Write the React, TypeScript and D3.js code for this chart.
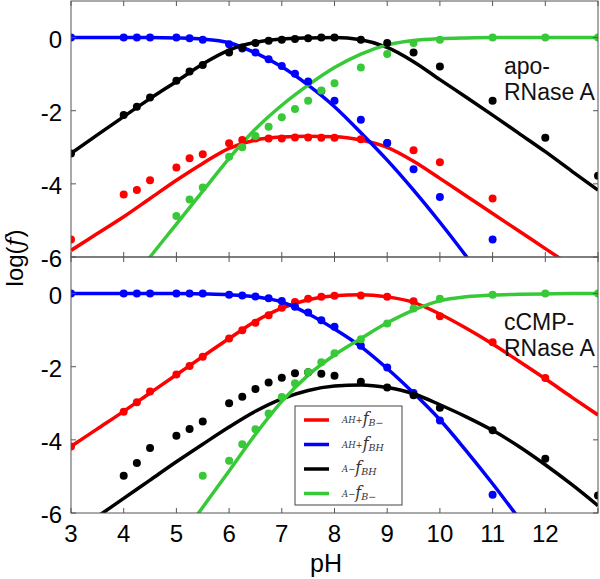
import React, { useRef, useEffect } from "react";
import * as d3 from "d3";

// pH values where points were measured
const pointPH = [3, 4, 4.25, 4.5, 5, 5.25, 5.5, 6, 6.25, 6.5, 6.75, 7, 7.25, 7.5, 7.75, 8, 8.5, 9, 9.5, 10, 11, 12, 13];

// apo-RNase A, log(f) measured
const apoRed = [-5.52, -4.29, -4.17, -3.9, -3.55, -3.3, -3.19, -2.89, -2.8, -2.76, -2.76, -2.76, -2.73, -2.73, -2.74, -2.74, -2.78, -2.88, -3.08, -3.41, -4.4, null, null];
const apoBlue = [0, 0, 0, 0, 0, -0.02, -0.06, -0.18, -0.3, -0.41, -0.59, -0.78, -0.99, -1.2, -1.46, -1.73, -2.25, -2.88, -3.6, -4.36, -5.52, null, null];
const apoBlack = [-3.17, -2.12, -1.89, -1.64, -1.18, -0.93, -0.75, -0.41, -0.27, -0.15, -0.09, -0.06, -0.04, -0.02, 0, 0, -0.06, -0.15, -0.41, -0.79, -1.73, -2.74, -3.78];
const apoGreen = [null, null, null, null, -4.88, -4.43, -4.1, -3.26, -3.0, -2.69, -2.44, -2.18, -1.95, -1.73, -1.45, -1.25, -0.82, -0.45, -0.15, -0.06, 0, 0, 0];

// cCMP-RNase A, log(f) measured
const ccmpRed = [-4.18, -3.23, -2.97, -2.68, -2.21, -1.98, -1.73, -1.23, -1.0, -0.8, -0.59, -0.39, -0.23, -0.14, -0.09, -0.06, -0.05, -0.09, -0.21, -0.62, -1.33, -2.31, null];
const ccmpBlue = [0, 0, 0, 0, 0, 0, 0, -0.03, -0.05, -0.08, -0.13, -0.2, -0.36, -0.52, -0.73, -0.91, -1.43, -2.02, -2.72, -3.47, -5.5, null, null];
const ccmpBlack = [null, -4.98, -4.63, -4.22, -3.89, -3.7, -3.5, -3.0, -2.82, -2.61, -2.43, -2.3, -2.18, -2.15, -2.19, -2.25, -2.41, -2.57, -2.78, -3.12, -3.74, -4.52, -5.52];
const ccmpGreen = [null, null, null, null, null, null, -4.98, -4.57, -4.12, -3.71, -3.28, -2.83, -2.45, -2.15, -1.88, -1.63, -1.25, -0.82, -0.41, -0.14, -0.03, 0, 0];

// fitted curves, read every half pH unit
const fitPH = [3, 3.5, 4, 4.5, 5, 5.5, 6, 6.5, 7, 7.5, 8, 8.5, 9, 9.5, 10, 10.5, 11, 11.5, 12, 12.5, 13];
const apoFitRed = [-5.82, -5.36, -4.9, -4.4, -3.9, -3.44, -3.03, -2.8, -2.72, -2.7, -2.71, -2.8, -3.0, -3.38, -3.85, -4.33, -4.81, -5.29, -5.77, -6.25, -6.73];
const apoFitBlue = [0, 0, 0, 0, -0.01, -0.04, -0.14, -0.42, -0.8, -1.3, -1.89, -2.6, -3.35, -4.17, -5.05, -5.98, -6.95, null, null, null, null];
const apoFitBlack = [-3.17, -2.66, -2.16, -1.67, -1.2, -0.72, -0.34, -0.13, -0.04, -0.01, 0, -0.06, -0.27, -0.66, -1.15, -1.63, -2.12, -2.62, -3.12, -3.65, -4.17];
const apoFitGreen = [null, null, -6.95, -6.0, -5.1, -4.2, -3.3, -2.5, -1.85, -1.3, -0.82, -0.45, -0.2, -0.08, -0.03, -0.01, 0, 0, 0, 0, 0];
const ccmpFitRed = [-4.18, -3.7, -3.22, -2.72, -2.22, -1.72, -1.23, -0.76, -0.4, -0.17, -0.06, -0.03, -0.09, -0.24, -0.56, -0.95, -1.38, -1.85, -2.33, -2.83, -3.32];
const ccmpFitBlue = [0, 0, 0, 0, 0, -0.01, -0.03, -0.09, -0.23, -0.55, -0.97, -1.45, -2.05, -2.72, -3.45, -4.3, -5.2, -6.15, null, null, null];
const ccmpFitBlack = [-6.6, -6.1, -5.6, -5.1, -4.6, -4.12, -3.65, -3.22, -2.88, -2.65, -2.53, -2.5, -2.57, -2.74, -3.04, -3.37, -3.74, -4.18, -4.68, -5.22, -5.8];
const ccmpFitGreen = [null, null, null, null, -6.85, -5.84, -4.85, -3.85, -2.95, -2.23, -1.68, -1.23, -0.8, -0.45, -0.2, -0.09, -0.04, -0.02, -0.01, 0, 0];

const colors = ["#ff0000", "#0000ff", "#000000", "#38c938"];
const legendPre = ["AH+", "AH+", "A\u2212", "A\u2212"];
const legendSub = ["B\u2212", "BH", "BH", "B\u2212"];
const panelNames = [["apo-", "RNase A"], ["cCMP-", "RNase A"]];

const xTicks = [3, 4, 5, 6, 7, 8, 9, 10, 11, 12, 13];
const xLabels = [3, 4, 5, 6, 7, 8, 9, 10, 11, 12];
const yTicks = [0, -2, -4, -6];

const width = 600, height = 579;
const sans = "'Liberation Sans', Arial, sans-serif";

function App() {
    const svgRef = useRef(null);

    useEffect(() => {
        const svg = d3.select(svgRef.current);
        svg.selectAll("*").remove();

        const x = d3.scaleLinear().domain([3, 13]).range([71, 598]);

        const panels = [
            { y: d3.scaleLinear().domain([-6, 1]).range([257, 1]),
              pts: [apoRed, apoBlue, apoBlack, apoGreen],
              fits: [apoFitRed, apoFitBlue, apoFitBlack, apoFitGreen] },
            { y: d3.scaleLinear().domain([-6, 1]).range([513, 257]),
              pts: [ccmpRed, ccmpBlue, ccmpBlack, ccmpGreen],
              fits: [ccmpFitRed, ccmpFitBlue, ccmpFitBlack, ccmpFitGreen] },
        ];

        panels.forEach((p, pi) => {
            const y = p.y;
            const [y0, y1] = y.range();
            const g = svg.append("g");
            const clipId = "clip" + pi;
            svg.append("clipPath").attr("id", clipId)
                .append("rect").attr("x", 71).attr("y", y1).attr("width", 527).attr("height", y0 - y1);

            const plot = g.append("g").attr("clip-path", `url(#${clipId})`);

            p.fits.forEach((vals, si) => {
                const ln = d3.line<number>()
                    .defined((d, i) => vals[i] !== null)
                    .x(d => x(d))
                    .y((d, i) => y(vals[i] as number))
                    .curve(d3.curveMonotoneX);
                plot.append("path")
                    .attr("d", ln(fitPH))
                    .attr("fill", "none")
                    .attr("stroke", colors[si])
                    .attr("stroke-width", 3.5);
            });

            p.pts.forEach((vals, si) => {
                plot.selectAll(null)
                    .data(pointPH.filter((d, i) => vals[i] !== null).map(d => [d, vals[pointPH.indexOf(d)]]))
                    .join("circle")
                    .attr("cx", d => x(d[0]))
                    .attr("cy", d => y(d[1]))
                    .attr("r", 4)
                    .attr("fill", colors[si]);
            });

            // frame
            g.append("rect").attr("x", 71).attr("y", y1).attr("width", 527).attr("height", y0 - y1)
                .attr("fill", "none").attr("stroke", "#555").attr("stroke-width", 1);

            // inward ticks
            xTicks.forEach(t => {
                g.append("line").attr("x1", x(t)).attr("x2", x(t)).attr("y1", y0).attr("y2", y0 - 5)
                    .attr("stroke", "#555");
                g.append("line").attr("x1", x(t)).attr("x2", x(t)).attr("y1", y1).attr("y2", y1 + 5)
                    .attr("stroke", "#555");
            });
            yTicks.forEach(t => {
                g.append("line").attr("x1", 71).attr("x2", 76).attr("y1", y(t)).attr("y2", y(t)).attr("stroke", "#555");
                g.append("line").attr("x1", 598).attr("x2", 593).attr("y1", y(t)).attr("y2", y(t)).attr("stroke", "#555");
                g.append("text").attr("x", 62).attr("y", y(t) + 10)
                    .attr("text-anchor", "end").attr("font-family", sans).attr("font-size", 24)
                    .text(String(t));
            });

            const nm = g.append("text").attr("font-family", sans).attr("font-size", 23).attr("fill", "#111");
            nm.append("tspan").attr("x", 504).attr("y", y(0) + 36).text(panelNames[pi][0]);
            nm.append("tspan").attr("x", 504).attr("y", y(0) + 62).text(panelNames[pi][1]);
        });

        // x tick labels
        xLabels.forEach(t => {
            svg.append("text").attr("x", x(t)).attr("y", 542)
                .attr("text-anchor", "middle").attr("font-family", sans).attr("font-size", 24)
                .text(String(t));
        });

        svg.append("text").attr("x", 326).attr("y", 572)
            .attr("text-anchor", "middle").attr("font-family", sans).attr("font-size", 25)
            .text("pH");

        const yl = svg.append("text").attr("transform", "translate(23,258) rotate(-90)")
            .attr("text-anchor", "middle").attr("font-family", sans).attr("font-size", 24);
        yl.append("tspan").text("log(");
        yl.append("tspan").attr("font-family", "'DejaVu Serif', serif").attr("font-style", "italic").text("f");
        yl.append("tspan").text(")");

        // legend
        const lg = svg.append("g");
        lg.append("rect").attr("x", 295).attr("y", 406).attr("width", 107).attr("height", 99)
            .attr("fill", "white").attr("stroke", "#444").attr("stroke-width", 1);
        colors.forEach((c, i) => {
            const ly = 420 + i * 24.5;
            lg.append("line").attr("x1", 304).attr("x2", 329).attr("y1", ly).attr("y2", ly)
                .attr("stroke", c).attr("stroke-width", 3.5);
            const t = lg.append("text").attr("x", 342).attr("y", ly + 3)
                .attr("font-family", "'DejaVu Serif', serif").attr("font-style", "italic").attr("fill", "#333");
            t.append("tspan").attr("font-size", 8.5).text(legendPre[i]);
            t.append("tspan").attr("font-size", 16).attr("dy", 1).text("f");
            t.append("tspan").attr("font-size", 9.5).attr("dy", 2).text(legendSub[i]);
        });
    }, []);

    return (
        <svg ref={svgRef} width={width} height={height}
            style={{ position: "absolute", left: 0, top: 0, background: "white" }} />
    );
}

export default App;
